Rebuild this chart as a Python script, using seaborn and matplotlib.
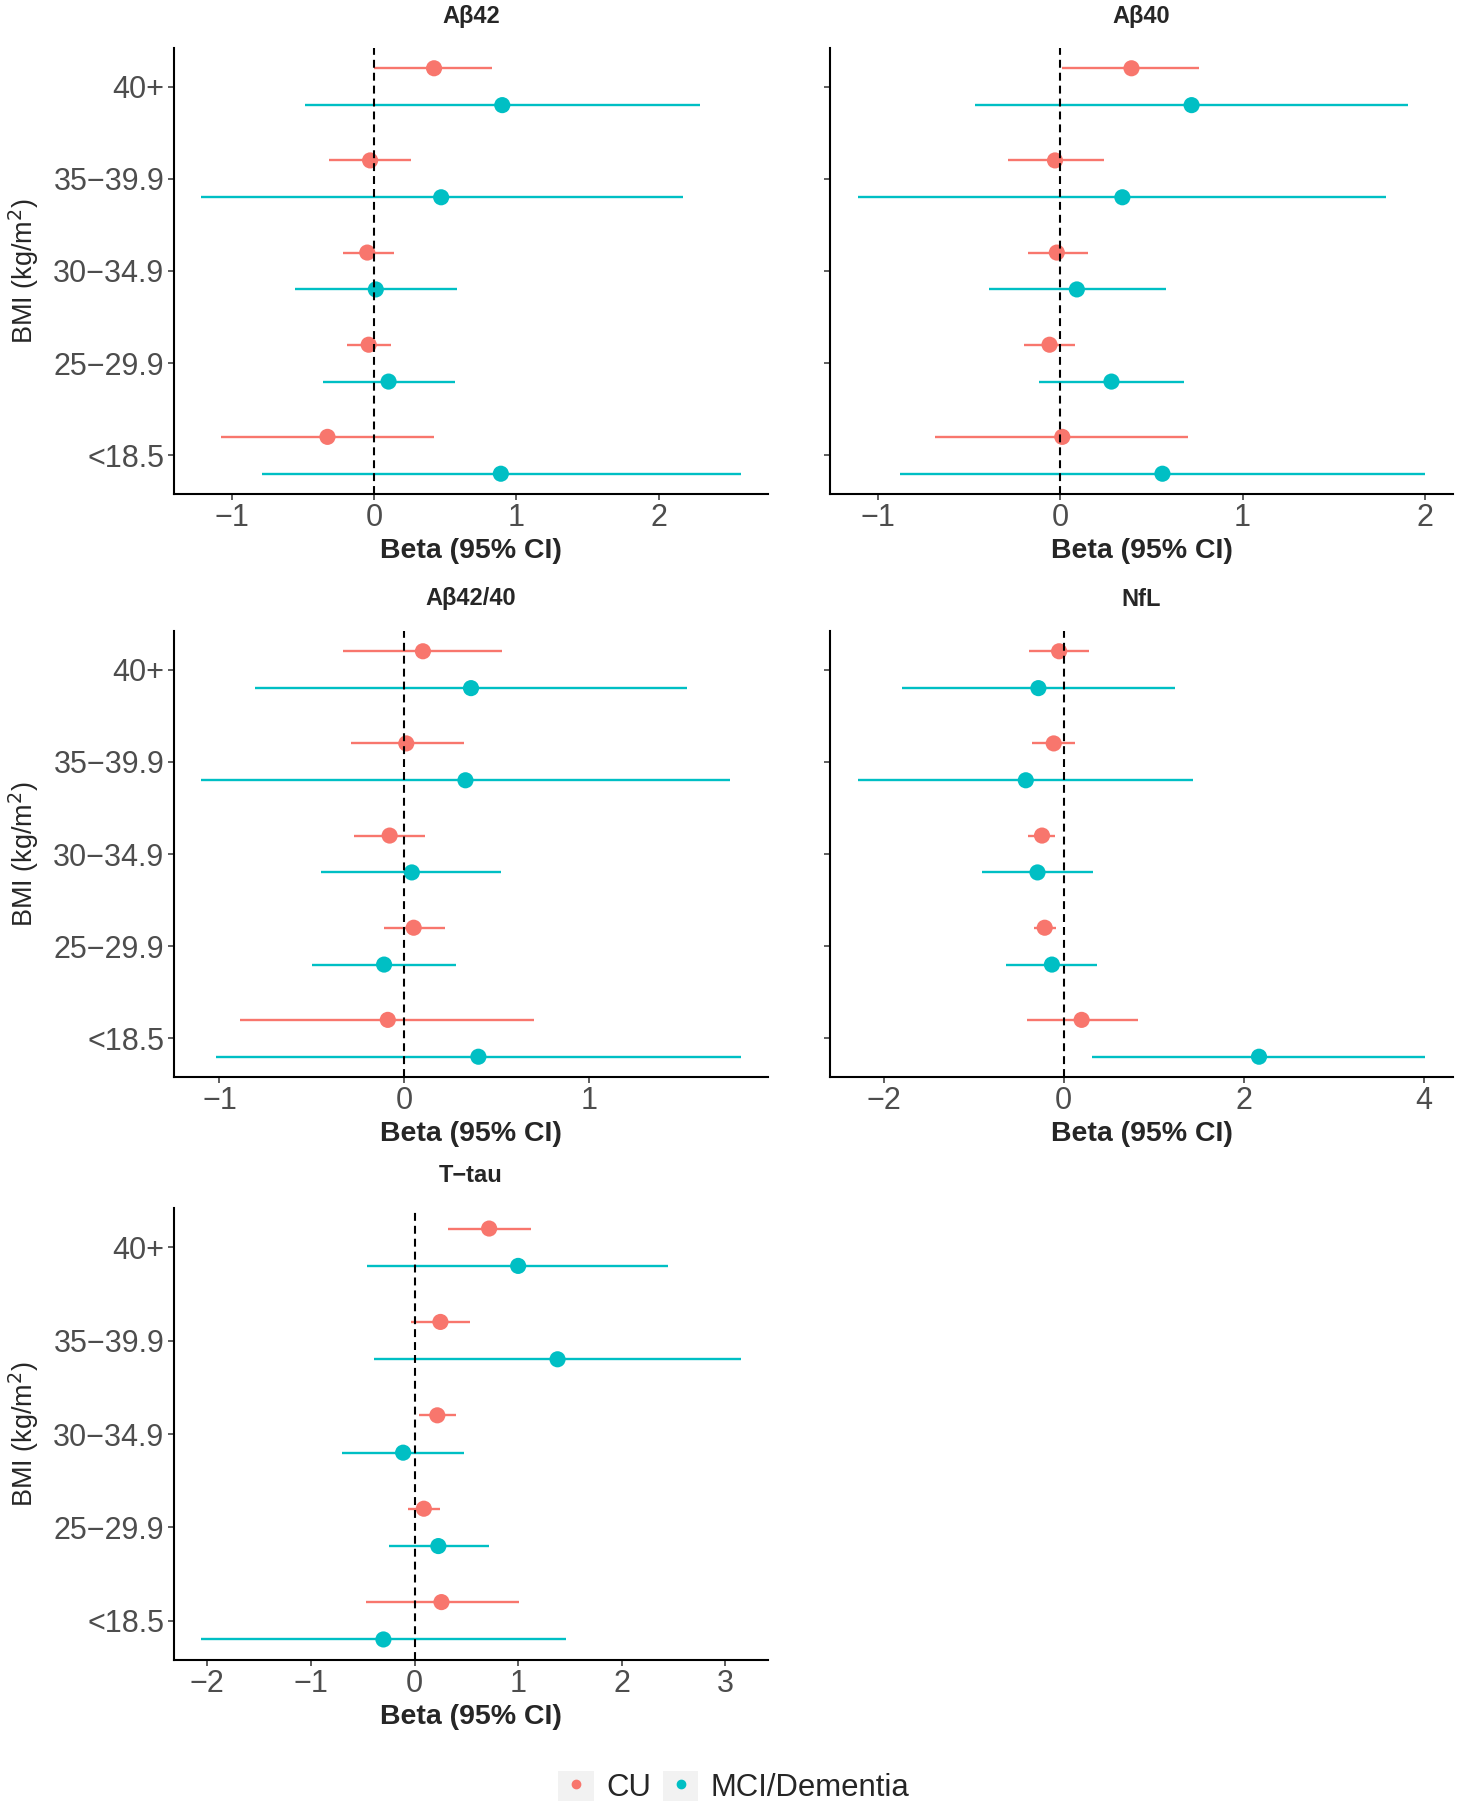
import numpy as np
import pandas as pd
import matplotlib.pyplot as plt
import seaborn as sns
from matplotlib.lines import Line2D
from matplotlib.patches import Patch
from matplotlib.legend_handler import HandlerTuple

# BMI categories, top to bottom (18.5-24.9 is the reference group)
bmi_groups = ["40+", "35−39.9", "30−34.9", "25−29.9", "<18.5"]
status = ["CU", "MCI/Dementia"]
palette = {"CU": "#F8766D", "MCI/Dementia": "#00BFC4"}

# Aβ42
ab42_cu = [0.42, -0.03, -0.05, -0.04, -0.33]
ab42_cu_lo = [0.00, -0.32, -0.22, -0.19, -1.08]
ab42_cu_hi = [0.83, 0.26, 0.14, 0.12, 0.42]
ab42_mci = [0.90, 0.47, 0.01, 0.10, 0.89]
ab42_mci_lo = [-0.49, -1.22, -0.56, -0.36, -0.79]
ab42_mci_hi = [2.29, 2.17, 0.58, 0.57, 2.58]

# Aβ40
ab40_cu = [0.39, -0.03, -0.02, -0.06, 0.01]
ab40_cu_lo = [0.01, -0.29, -0.18, -0.20, -0.69]
ab40_cu_hi = [0.76, 0.24, 0.15, 0.08, 0.70]
ab40_mci = [0.72, 0.34, 0.09, 0.28, 0.56]
ab40_mci_lo = [-0.47, -1.11, -0.39, -0.12, -0.88]
ab40_mci_hi = [1.91, 1.79, 0.58, 0.68, 2.00]

# Aβ42/40
ratio_cu = [0.10, 0.01, -0.08, 0.05, -0.09]
ratio_cu_lo = [-0.33, -0.29, -0.27, -0.11, -0.89]
ratio_cu_hi = [0.53, 0.32, 0.11, 0.22, 0.70]
ratio_mci = [0.36, 0.33, 0.04, -0.11, 0.40]
ratio_mci_lo = [-0.81, -1.10, -0.45, -0.50, -1.02]
ratio_mci_hi = [1.53, 1.76, 0.52, 0.28, 1.82]

# NfL
nfl_cu = [-0.05, -0.11, -0.24, -0.21, 0.20]
nfl_cu_lo = [-0.38, -0.35, -0.39, -0.33, -0.41]
nfl_cu_hi = [0.28, 0.13, -0.10, -0.08, 0.83]
nfl_mci = [-0.28, -0.42, -0.29, -0.13, 2.17]
nfl_mci_lo = [-1.80, -2.28, -0.91, -0.64, 0.32]
nfl_mci_hi = [1.24, 1.44, 0.33, 0.37, 4.01]

# T-tau
ttau_cu = [0.72, 0.25, 0.22, 0.09, 0.26]
ttau_cu_lo = [0.32, -0.03, 0.04, -0.06, -0.47]
ttau_cu_hi = [1.12, 0.54, 0.40, 0.25, 1.01]
ttau_mci = [1.00, 1.38, -0.11, 0.23, -0.30]
ttau_mci_lo = [-0.46, -0.39, -0.70, -0.25, -2.06]
ttau_mci_hi = [2.45, 3.15, 0.48, 0.72, 1.46]

panel_titles = ["Aβ42", "Aβ40", "Aβ42/40", "NfL", "T−tau"]
panel_xticks = [[-1, 0, 1, 2], [-1, 0, 1, 2], [-1, 0, 1], [-2, 0, 2, 4], [-2, -1, 0, 1, 2, 3]]


def make_frame(cu, cu_lo, cu_hi, mci, mci_lo, mci_hi):
    rows = []
    for grp, est, lo, hi, shift in [("CU", cu, cu_lo, cu_hi, -0.2),
                                    ("MCI/Dementia", mci, mci_lo, mci_hi, 0.2)]:
        for i, cat in enumerate(bmi_groups):
            rows.append({"bmi": cat, "group": grp, "beta": est[i], "lo": lo[i],
                         "hi": hi[i], "ypos": i + shift})
    return pd.DataFrame(rows)


frames = [
    make_frame(ab42_cu, ab42_cu_lo, ab42_cu_hi, ab42_mci, ab42_mci_lo, ab42_mci_hi),
    make_frame(ab40_cu, ab40_cu_lo, ab40_cu_hi, ab40_mci, ab40_mci_lo, ab40_mci_hi),
    make_frame(ratio_cu, ratio_cu_lo, ratio_cu_hi, ratio_mci, ratio_mci_lo, ratio_mci_hi),
    make_frame(nfl_cu, nfl_cu_lo, nfl_cu_hi, nfl_mci, nfl_mci_lo, nfl_mci_hi),
    make_frame(ttau_cu, ttau_cu_lo, ttau_cu_hi, ttau_mci, ttau_mci_lo, ttau_mci_hi),
]

sns.set_style("ticks")
plt.rcParams["font.family"] = ["Liberation Sans", "DejaVu Sans"]

W, H = 1458, 1810
fig = plt.figure(figsize=(W / 100, H / 100), dpi=100)

# axes boxes in pixels: left, top, right, bottom
boxes = [(174, 48, 768, 494), (830, 48, 1453, 494),
         (174, 631, 768, 1077), (830, 631, 1453, 1077),
         (174, 1208, 768, 1660)]

for idx, (df, title, xt, box) in enumerate(zip(frames, panel_titles, panel_xticks, boxes)):
    l, t, r, b = box
    ax = fig.add_axes([l / W, 1 - b / H, (r - l) / W, (b - t) / H])
    for grp in status:
        sub = df[df["group"] == grp]
        ax.hlines(sub["ypos"], sub["lo"], sub["hi"], color=palette[grp], lw=1.7, zorder=2)
    sns.scatterplot(data=df, x="beta", y="ypos", hue="group", palette=palette,
                    s=135, linewidth=0, legend=False, ax=ax, zorder=3)
    ax.axvline(0, color="black", ls=(0, (3.8, 2.4)), lw=1.5, zorder=4)

    # ggplot-like 5% expansion
    xmin = min(df["lo"].min(), df["beta"].min())
    xmax = max(df["hi"].max(), df["beta"].max())
    pad = 0.05 * (xmax - xmin)
    ax.set_xlim(xmin - pad, xmax + pad)
    ypad = 0.05 * (df["ypos"].max() - df["ypos"].min())
    ax.set_ylim(df["ypos"].max() + ypad, df["ypos"].min() - ypad)

    ax.set_xticks(xt)
    ax.set_xticklabels([f"{v}".replace("-", "−") for v in xt])
    ax.set_yticks(range(len(bmi_groups)))
    if idx in (1, 3):
        ax.set_yticklabels([])
    else:
        ax.set_yticklabels(bmi_groups)

    for lab in ax.get_xticklabels() + ax.get_yticklabels():
        lab.set_fontsize(22)
        lab.set_color("#4D4D4D")
    ax.tick_params(axis="both", length=4, width=1.1, color="#333333")
    ax.tick_params(axis="x", pad=2.5)
    ax.tick_params(axis="y", pad=3)

    for s in ["top", "right"]:
        ax.spines[s].set_visible(False)
    for s in ["left", "bottom"]:
        ax.spines[s].set_linewidth(1.5)
        ax.spines[s].set_color("black")

    hpx = b - t
    wpx = r - l
    ax.set_xlabel("Beta (95% CI)", fontsize=20.5, fontweight="bold", va="center")
    ax.xaxis.set_label_coords(0.5, -57 / hpx)
    if idx in (1, 3):
        ax.set_ylabel("")
    else:
        ax.set_ylabel("BMI (kg/m$^2$)", fontsize=19.5, va="center")
        ax.yaxis.set_label_coords(-(l - 24) / wpx, 0.5)

    ax.text(0.5, 1 + 32 / hpx, title, transform=ax.transAxes, ha="center", va="center",
            fontsize=17, fontweight="bold")

handles = [(Patch(facecolor="#F2F2F2", edgecolor="none"),
            Line2D([], [], marker="o", ls="none", color=palette[g], markersize=6))
           for g in status]
fig.legend(handles, status, loc="center", bbox_to_anchor=(734 / W, 1 - 1787 / H),
           ncol=2, frameon=False, fontsize=22.4, handlelength=1.13, handleheight=1.13,
           handletextpad=0.4, columnspacing=0.4,
           handler_map={tuple: HandlerTuple(ndivide=1)})

fig.savefig("out.png", dpi=100)
